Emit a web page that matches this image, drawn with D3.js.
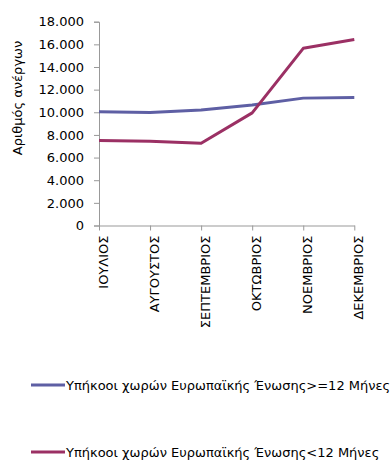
<!DOCTYPE html>
<html><head><meta charset="utf-8">
<script src="https://cdn.jsdelivr.net/npm/d3@7/dist/d3.min.js"></script>
<style>body{margin:0;background:#fff}svg{display:block}text{font-family:"DejaVu Sans",sans-serif;fill:#000}</style>
</head><body>
<script>
const months = ["ΙΟΥΛΙΟΣ","ΑΥΓΟΥΣΤΟΣ","ΣΕΠΤΕΜΒΡΙΟΣ","ΟΚΤΩΒΡΙΟΣ","ΝΟΕΜΒΡΙΟΣ","ΔΕΚΕΜΒΡΙΟΣ"];
const seriesGE12 = [10050, 9980, 10200, 10650, 11250, 11300];
const seriesLT12 = [7500, 7440, 7260, 9950, 15650, 16420];
const seriesNames = ["Υπήκοοι χωρών Ευρωπαϊκής Ένωσης>=12 Μήνες","Υπήκοοι χωρών Ευρωπαϊκής Ένωσης<12 Μήνες"];
const colors = ["#5E5FA4","#9B3064"];
const yTicks = [0,2000,4000,6000,8000,10000,12000,14000,16000,18000];
const yTitle = "Αριθμός ανέργων";

const W=390,H=462;
const svg=d3.select("body").append("svg").attr("width",W).attr("height",H);
const x=d3.scalePoint().domain(months).range([99,354.3]);
const y=d3.scaleLinear().domain([0,18000]).range([225.5,21.7]);
const fmt=d=>d3.format(",")(d).replace(/,/g,".");

const ya=svg.append("g").attr("transform","translate(99,0)").call(d3.axisLeft(y).tickValues(yTicks).tickFormat(fmt).tickSize(5).tickPadding(10));
ya.select(".domain").attr("stroke","#999");
ya.selectAll(".tick line").attr("stroke","#999");
ya.selectAll("text").attr("font-size",13).attr("font-family","DejaVu Sans");

const xa=svg.append("g").attr("transform","translate(0,225.5)").call(d3.axisBottom(x).tickSize(5).tickSizeOuter(0));
xa.select(".domain").attr("stroke","#999");
xa.selectAll(".tick line").attr("stroke","#999");
xa.selectAll("text").attr("font-size",13).attr("font-family","DejaVu Sans")
  .attr("transform","rotate(-90)").attr("text-anchor","end").attr("x",-10).attr("y",3.5).attr("dy","0.35em");

svg.append("text").attr("transform","translate(22,98) rotate(-90)").attr("text-anchor","middle")
  .attr("font-size",13).text(yTitle);

const line=d3.line().x((d,i)=>x(months[i])).y(d=>y(d));
[seriesGE12,seriesLT12].forEach((s,k)=>{
  svg.append("path").datum(s).attr("d",line).attr("fill","none").attr("stroke",colors[k]).attr("stroke-width",3).attr("stroke-linejoin","round");
});

const ly=[385,452];
seriesNames.forEach((n,k)=>{
  svg.append("line").attr("x1",31).attr("x2",65).attr("y1",ly[k]).attr("y2",ly[k]).attr("stroke",colors[k]).attr("stroke-width",3);
  svg.append("text").attr("x",66).attr("y",ly[k]).attr("dy","0.35em").attr("font-size",13).text(n);
});
</script>
</body></html>
